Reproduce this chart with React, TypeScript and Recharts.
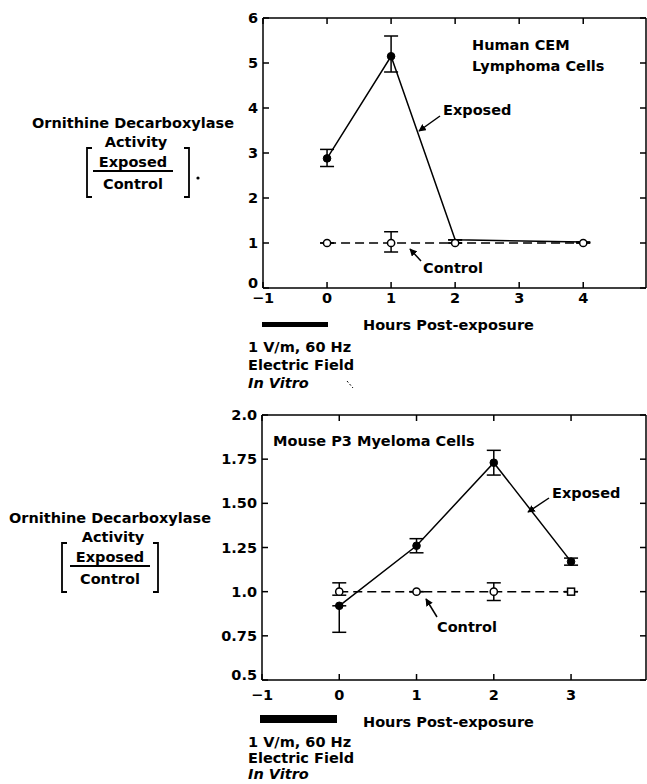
import React from "react";
import { ComposedChart, Line, XAxis, YAxis, ErrorBar, ReferenceLine } from "recharts";

// Human CEM lymphoma cells (top panel)
const TOP_X_TICKS = [-1, 0, 1, 2, 3, 4];
const TOP_Y_TICKS = [0, 1, 2, 3, 4, 5, 6];
const TOP_EXPOSED = [
  { x: 0, y: 2.88, err: [0.18, 0.2] },
  { x: 1, y: 5.15, err: [0.35, 0.45] },
  { x: 2, y: 1.07, err: [0, 0] },
  { x: 4, y: 1.02, err: [0, 0] },
];
const TOP_CONTROL = [
  { x: 0, y: 1.0, err: [0, 0] },
  { x: 1, y: 1.0, err: [0.2, 0.25] },
  { x: 2, y: 1.0, err: [0, 0] },
  { x: 4, y: 1.0, err: [0, 0] },
];

// Mouse P3 myeloma cells (bottom panel)
const BOTTOM_X_TICKS = [-1, 0, 1, 2, 3];
const BOTTOM_Y_TICKS = [0.5, 0.75, 1.0, 1.25, 1.5, 1.75, 2.0];
const BOTTOM_Y_LABELS = ["0.5", "0.75", "1.0", "1.25", "1.50", "1.75", "2.0"];
const BOTTOM_EXPOSED = [
  { x: 0, y: 0.92, err: [0.15, 0] },
  { x: 1, y: 1.26, err: [0.04, 0.04] },
  { x: 2, y: 1.73, err: [0.07, 0.07] },
  { x: 3, y: 1.17, err: [0.02, 0.02] },
];
const BOTTOM_CONTROL = [
  { x: 0, y: 1.0, err: [0.02, 0.05] },
  { x: 1, y: 1.0, err: [0, 0] },
  { x: 2, y: 1.0, err: [0.05, 0.05] },
  { x: 3, y: 1.0, err: [0, 0] },
];

const FONT = "'DejaVu Sans', Arial, sans-serif";
const txt = { fontFamily: FONT, fontWeight: 700, fontSize: 14.5, fill: "#000" } as const;

const fmtX = (v: number) => (v < 0 ? "\u2212" + Math.abs(v) : String(v));

type Box = { left: number; right: number; top: number; bottom: number; labelGap: number };

// tick labels outside, tick marks pointing into the box on all four sides
const makeYTick = (box: Box, labels: string[], ticks: number[]) => (props: any) => {
  const { y, payload } = props;
  const i = ticks.indexOf(payload.value);
  // lowest label sits a little higher so it clears the x-axis "-1"
  const ly = i === 0 ? y - 5 : y;
  return (
    <g>
      <text x={box.left - 5} y={ly} textAnchor="end" dominantBaseline="central" style={txt}>
        {labels[i]}
      </text>
      <line x1={box.left} x2={box.left + 6} y1={y} y2={y} stroke="#000" strokeWidth={1.5} />
      <line x1={box.right - 6} x2={box.right} y1={y} y2={y} stroke="#000" strokeWidth={1.5} />
    </g>
  );
};

const makeXTick = (box: Box) => (props: any) => {
  const { x, payload } = props;
  return (
    <g>
      <text x={x} y={box.bottom + box.labelGap} textAnchor="middle" dominantBaseline="central" style={txt}>
        {fmtX(payload.value)}
      </text>
      <line x1={x} x2={x} y1={box.bottom} y2={box.bottom - 6} stroke="#000" strokeWidth={1.5} />
      <line x1={x} x2={x} y1={box.top} y2={box.top + 6} stroke="#000" strokeWidth={1.5} />
    </g>
  );
};

const filledDot = (show: (i: number) => boolean) => (props: any) => {
  const { cx, cy, index } = props;
  if (!show(index)) return <g key={index} />;
  return <circle key={index} cx={cx} cy={cy} r={3.8} fill="#000" stroke="#000" />;
};

const openDot = (squareAt: number) => (props: any) => {
  const { cx, cy, index } = props;
  if (index === squareAt)
    return <rect key={index} x={cx - 3.5} y={cy - 3.5} width={7} height={7} fill="#fff" stroke="#000" strokeWidth={1.5} />;
  return <circle key={index} cx={cx} cy={cy} r={3.6} fill="#fff" stroke="#000" strokeWidth={1.5} />;
};

const TOP_BOX: Box = { left: 263, right: 646, top: 18, bottom: 288, labelGap: 10 };
const BOT_BOX_LOCAL: Box = { left: 262, right: 646, top: 15, bottom: 280, labelGap: 15 };

function TopChart() {
  const box = TOP_BOX;
  return (
    <ComposedChart width={647} height={330} margin={{ top: 18, right: 1, bottom: 12, left: 233 }}>
      <XAxis
        type="number"
        dataKey="x"
        domain={[-1, 4.98]}
        allowDataOverflow
        ticks={TOP_X_TICKS}
        height={30}
        tickSize={0}
        tickLine={false}
        axisLine={{ stroke: "#000", strokeWidth: 1.5 }}
        tick={makeXTick(box)}
      />
      <YAxis
        type="number"
        domain={[0, 6]}
        allowDataOverflow
        ticks={TOP_Y_TICKS}
        width={30}
        tickSize={0}
        tickLine={false}
        axisLine={{ stroke: "#000", strokeWidth: 1.5 }}
        tick={makeYTick(box, TOP_Y_TICKS.map(String), TOP_Y_TICKS)}
      />
      <ReferenceLine y={6} stroke="#000" strokeWidth={1.5} />
      <ReferenceLine x={4.98} stroke="#000" strokeWidth={1.5} />
      <Line
        data={TOP_CONTROL}
        dataKey="y"
        stroke="#000"
        strokeWidth={1.5}
        strokeDasharray="9 5"
        dot={openDot(-1)}
        isAnimationActive={false}
      >
        <ErrorBar dataKey="err" width={7} stroke="#000" strokeWidth={1.5} isAnimationActive={false} />
      </Line>
      <Line
        data={TOP_EXPOSED}
        dataKey="y"
        stroke="#000"
        strokeWidth={1.5}
        dot={filledDot((i) => i < 2)}
        isAnimationActive={false}
      >
        <ErrorBar dataKey="err" width={7} stroke="#000" strokeWidth={1.5} isAnimationActive={false} />
      </Line>
    </ComposedChart>
  );
}

function BottomChart() {
  const box = BOT_BOX_LOCAL;
  return (
    <ComposedChart width={647} height={320} margin={{ top: 15, right: 1, bottom: 10, left: 232 }}>
      <XAxis
        type="number"
        dataKey="x"
        domain={[-1, 3.97]}
        allowDataOverflow
        ticks={BOTTOM_X_TICKS}
        height={30}
        tickSize={0}
        tickLine={false}
        axisLine={{ stroke: "#000", strokeWidth: 1.5 }}
        tick={makeXTick(box)}
      />
      <YAxis
        type="number"
        domain={[0.5, 2.0]}
        allowDataOverflow
        ticks={BOTTOM_Y_TICKS}
        width={30}
        tickSize={0}
        tickLine={false}
        axisLine={{ stroke: "#000", strokeWidth: 1.5 }}
        tick={makeYTick(box, BOTTOM_Y_LABELS, BOTTOM_Y_TICKS)}
      />
      <ReferenceLine y={2.0} stroke="#000" strokeWidth={1.5} />
      <ReferenceLine x={3.97} stroke="#000" strokeWidth={1.5} />
      <Line
        data={BOTTOM_CONTROL}
        dataKey="y"
        stroke="#000"
        strokeWidth={1.5}
        strokeDasharray="9 5"
        dot={openDot(BOTTOM_CONTROL.length - 1)}
        isAnimationActive={false}
      >
        <ErrorBar dataKey="err" width={7} stroke="#000" strokeWidth={1.5} isAnimationActive={false} />
      </Line>
      <Line
        data={BOTTOM_EXPOSED}
        dataKey="y"
        stroke="#000"
        strokeWidth={1.5}
        dot={filledDot(() => true)}
        isAnimationActive={false}
      >
        <ErrorBar dataKey="err" width={7} stroke="#000" strokeWidth={1.5} isAnimationActive={false} />
      </Line>
    </ComposedChart>
  );
}

// y-axis caption: "Ornithine Decarboxylase Activity [Exposed / Control]"
function AxisCaption({ cx, y, l, r }: { cx: number; y: number; l: number; r: number }) {
  const bTop = y + 25;
  const bBot = y + 74;
  return (
    <g>
      <text x={cx} y={y} textAnchor="middle" dominantBaseline="central" style={txt}>
        Ornithine Decarboxylase
      </text>
      <text x={cx + 3} y={y + 19} textAnchor="middle" dominantBaseline="central" style={txt}>
        Activity
      </text>
      <text x={cx} y={y + 39} textAnchor="middle" dominantBaseline="central" style={txt}>
        Exposed
      </text>
      <line x1={cx - 40} x2={cx + 40} y1={y + 48} y2={y + 48} stroke="#000" strokeWidth={2} />
      <text x={cx} y={y + 61} textAnchor="middle" dominantBaseline="central" style={txt}>
        Control
      </text>
      <path d={`M${l + 5},${bTop} H${l} V${bBot} H${l + 5}`} fill="none" stroke="#000" strokeWidth={1.8} />
      <path d={`M${r - 5},${bTop} H${r} V${bBot} H${r - 5}`} fill="none" stroke="#000" strokeWidth={1.8} />
    </g>
  );
}

function Arrow({ x1, y1, x2, y2 }: { x1: number; y1: number; x2: number; y2: number }) {
  return <line x1={x1} y1={y1} x2={x2} y2={y2} stroke="#000" strokeWidth={1.5} markerEnd="url(#ah)" />;
}

function Overlay() {
  return (
    <svg width={647} height={784} style={{ position: "absolute", left: 0, top: 0, pointerEvents: "none" }}>
      <defs>
        <marker id="ah" viewBox="0 0 10 10" refX="9" refY="5" markerWidth="5" markerHeight="5" orient="auto">
          <path d="M0,0 L10,5 L0,10 z" fill="#000" />
        </marker>
      </defs>

      {/* top panel */}
      <text x={472} y={45} dominantBaseline="central" style={txt}>Human CEM</text>
      <text x={472} y={66} dominantBaseline="central" style={txt}>Lymphoma Cells</text>
      <text x={443} y={110} dominantBaseline="central" style={txt}>Exposed</text>
      <Arrow x1={440} y1={116} x2={419} y2={131} />
      <text x={423} y={268} dominantBaseline="central" style={txt}>Control</text>
      <Arrow x1={421} y1={261} x2={410} y2={249} />
      <AxisCaption cx={133} y={123} l={87} r={189} />
      <circle cx={198} cy={178} r={1.6} fill="#000" />
      <rect x={262} y={322} width={66} height={5} fill="#000" />
      <text x={363} y={325} dominantBaseline="central" style={txt}>Hours Post-exposure</text>
      <text x={248} y={347} dominantBaseline="central" style={txt}>1 V/m, 60 Hz</text>
      <text x={248} y={365} dominantBaseline="central" style={txt}>Electric Field</text>
      <text x={248} y={383} dominantBaseline="central" style={{ ...txt, fontStyle: "italic" }}>In Vitro</text>
      <line x1={347} y1={381} x2={353} y2={388} stroke="#000" strokeWidth={1} strokeDasharray="2 2" />

      {/* bottom panel */}
      <text x={273} y={441} dominantBaseline="central" style={txt}>Mouse P3 Myeloma Cells</text>
      <text x={552} y={493} dominantBaseline="central" style={txt}>Exposed</text>
      <Arrow x1={549} y1={498} x2={528} y2={512} />
      <text x={437} y={627} dominantBaseline="central" style={txt}>Control</text>
      <Arrow x1={437} y1={617} x2={426} y2={599} />
      <AxisCaption cx={110} y={518} l={62} r={158} />
      <rect x={260} y={715} width={77} height={8} fill="#000" />
      <text x={363} y={722} dominantBaseline="central" style={txt}>Hours Post-exposure</text>
      <text x={248} y={742} dominantBaseline="central" style={txt}>1 V/m, 60 Hz</text>
      <text x={248} y={758} dominantBaseline="central" style={txt}>Electric Field</text>
      <text x={248} y={774} dominantBaseline="central" style={{ ...txt, fontStyle: "italic" }}>In Vitro</text>
    </svg>
  );
}

export default function App() {
  return (
    <div style={{ position: "absolute", left: 0, top: 0, width: 647, height: 784, background: "#fff", overflow: "hidden" }}>
      <div style={{ position: "absolute", left: 0, top: 0 }}>
        <TopChart />
      </div>
      <div style={{ position: "absolute", left: 0, top: 400 }}>
        <BottomChart />
      </div>
      <Overlay />
    </div>
  );
}
